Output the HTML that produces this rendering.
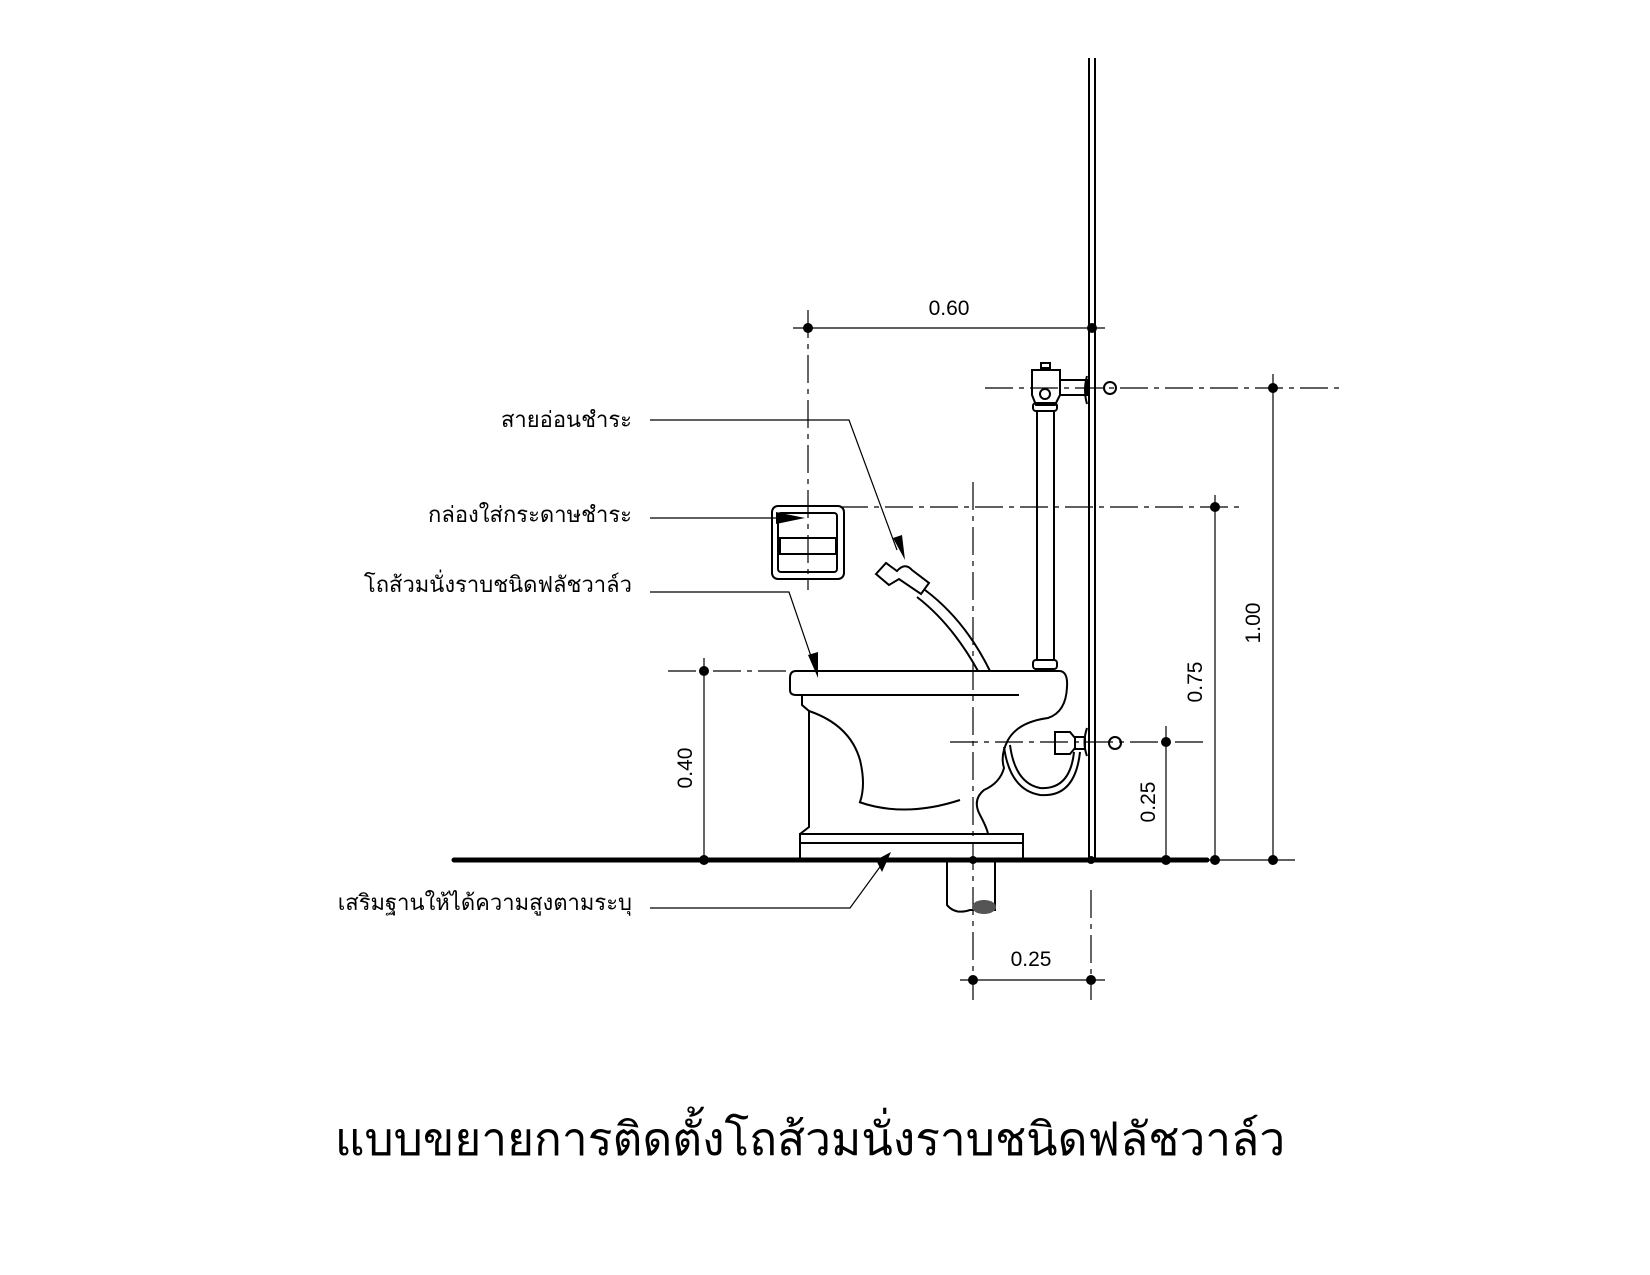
<!DOCTYPE html>
<html><head><meta charset="utf-8"><style>
html,body{margin:0;padding:0;background:#fff;}
svg{display:block}
text{font-family:"Liberation Sans","DejaVu Sans",sans-serif;fill:#000}
</style></head><body>
<svg width="1650" height="1275" viewBox="0 0 1650 1275" xmlns="http://www.w3.org/2000/svg">
<g fill="none" stroke="#000">
<line x1="1089" y1="58" x2="1089" y2="860" stroke-width="2"/>
<line x1="1095" y1="58" x2="1095" y2="860" stroke-width="2"/>
<line x1="454" y1="860" x2="1207" y2="860" stroke-width="5" stroke-linecap="round"/>
<g stroke-width="1.2">
<line x1="793" y1="328" x2="1105" y2="328"/>
<line x1="1273" y1="374" x2="1273" y2="860"/>
<line x1="1215" y1="495" x2="1215" y2="860"/>
<line x1="1166" y1="726" x2="1166" y2="860"/>
<line x1="704" y1="658" x2="704" y2="860"/>
<line x1="960" y1="980" x2="1105" y2="980"/>
<line x1="1207" y1="860" x2="1295" y2="860"/>
</g>
<g stroke-width="1.2" stroke-dasharray="28,6,5,6">
<line x1="808" y1="310" x2="808" y2="590"/>
<line x1="985" y1="388" x2="1345" y2="388"/>
<line x1="840" y1="507" x2="1240" y2="507"/>
<line x1="950" y1="742" x2="1203" y2="742"/>
<line x1="668" y1="671" x2="790" y2="671"/>
<line x1="973" y1="482" x2="973" y2="1000"/>
<line x1="1091" y1="890" x2="1091" y2="1000"/>
</g>
<rect x="772" y="506" width="72" height="73" rx="6" stroke-width="2"/>
<rect x="778" y="513" width="59" height="59" rx="3" stroke-width="2"/>
<rect x="780" y="538" width="56" height="16" stroke-width="2"/>
<g stroke-width="2">
<rect x="1041" y="363" width="9" height="5"/>
<path d="M1032,370 L1060,370 L1060,395 L1055,405 L1036,405 L1032,395 Z"/>
<circle cx="1045" cy="394" r="5"/>
<rect x="1033" y="403" width="24" height="8" rx="3"/>
<rect x="1060" y="380" width="27" height="15"/>
<path d="M1087,376 Q1083,390 1087,404"/>
<line x1="1037" y1="411" x2="1037" y2="660"/>
<line x1="1054" y1="411" x2="1054" y2="660"/>
<rect x="1033" y="660" width="24" height="9" rx="3"/>
<circle cx="1110" cy="388" r="6"/>
<circle cx="1115" cy="743" r="6"/>
<path d="M1055,732 L1070,732 L1075,738 L1075,748 L1070,754 L1055,754 Z"/>
<rect x="1075" y="737" width="10" height="12"/>
<path d="M1087,728 Q1082,743 1087,756"/>
<path d="M1004,747 Q1010,790 1040,795 Q1075,798 1080,752"/>
<path d="M1010,745 Q1015,783 1040,788 Q1070,790 1074,752"/>
<path d="M876,574 L886,563 L897,571 Q905,562 912,570 L929,583 L921,594 L899,579 L889,585 Z"/>
<path d="M925,590 Q965,620 990,671"/>
<path d="M917,597 Q952,624 978,671"/>
<path d="M796,671 L1060,671 Q1068,672 1067,687 Q1066,712 1048,718 Q1018,722 1008,740 Q1000,755 1004,768 Q1000,783 984,790 Q972,800 980,815 Q987,828 988,834"/>
<path d="M796,671 Q790,671 790,678 L790,690 Q790,695 796,695 L1019,695"/>
<path d="M802,696 L802,705 L809,711 L809,827 L800,834"/>
<rect x="800" y="834" width="223" height="26"/>
<line x1="800" y1="843" x2="1023" y2="843"/>
<path d="M809,711 Q850,725 860,760 Q866,785 860,802"/>
<path d="M859,802 Q905,818 960,800"/>
<path d="M947,860 L947,905 Q955,915 970,910 L995,910 L995,860"/>
</g>
<ellipse cx="984" cy="907" rx="12" ry="7" fill="#555" stroke="none"/>
<g stroke-width="1.2">
<path d="M650,420 L849,420 L897,550"/>
<path d="M650,518 L790,518"/>
<path d="M650,592 L789,592 L815,668"/>
<path d="M650,908 L850,908 L885,860"/>
</g>
</g>
<g fill="#000">
<polygon points="776,512 805,518 776,524"/>
<polygon points="808,655 818,678 818,652"/>
<polygon points="876,860 891,852 882,872"/>
<polygon points="893,538 905,560 902,535"/>
</g>
<g fill="#000">
<circle cx="808" cy="328" r="5"/><circle cx="1092" cy="328" r="5"/>
<circle cx="1273" cy="388" r="5"/><circle cx="1273" cy="860" r="5"/>
<circle cx="1215" cy="507" r="5"/><circle cx="1215" cy="860" r="5"/>
<circle cx="1166" cy="742" r="5"/><circle cx="1166" cy="860" r="5"/>
<circle cx="704" cy="671" r="5"/><circle cx="704" cy="860" r="5"/>
<circle cx="973" cy="980" r="5"/><circle cx="1091" cy="980" r="5"/>
<circle cx="973" cy="860" r="4"/><circle cx="1091" cy="860" r="4"/>
</g>
<g font-size="21">
<text x="949" y="315" text-anchor="middle">0.60</text>
<text x="1031" y="966" text-anchor="middle">0.25</text>
<text transform="translate(1260,623) rotate(-90)" text-anchor="middle">1.00</text>
<text transform="translate(1202,682) rotate(-90)" text-anchor="middle">0.75</text>
<text transform="translate(1155,802) rotate(-90)" text-anchor="middle">0.25</text>
<text transform="translate(692,768) rotate(-90)" text-anchor="middle">0.40</text>
</g>
<g font-size="22" text-anchor="end">
<text x="632" y="427">สายอ่อนชำระ</text>
<text x="632" y="522">กล่องใส่กระดาษชำระ</text>
<text x="632" y="592">โถส้วมนั่งราบชนิดฟลัชวาล์ว</text>
<text x="632" y="910">เสริมฐานให้ได้ความสูงตามระบุ</text>
</g>
<text x="810" y="1155" font-size="46" text-anchor="middle" style="font-family:'Liberation Serif','DejaVu Serif',serif">แบบขยายการติดตั้งโถส้วมนั่งราบชนิดฟลัชวาล์ว</text>
</svg>
</body></html>
